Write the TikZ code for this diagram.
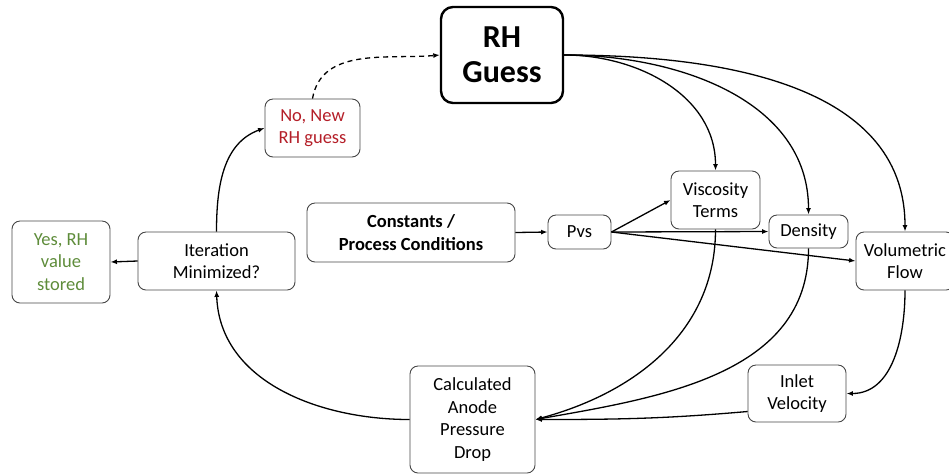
\documentclass[tikz,border=0pt]{standalone}
\usepackage{fontspec}
\setmainfont{Carlito}
\usetikzlibrary{arrows.meta}
\definecolor{redtxt}{RGB}{180,30,40}
\definecolor{greentxt}{RGB}{94,140,58}
\definecolor{boxline}{RGB}{70,70,70}
\begin{document}
\begin{tikzpicture}[x=1pt,y=1pt,
  box/.style={draw=boxline,line width=0.9pt,rounded corners=8pt,align=center,inner sep=0pt,
    font=\fontsize{18.5}{22.5}\selectfont},
  conn/.style={line width=1.3pt,-{Latex[length=6.5pt,width=5pt]}}]
\useasboundingbox (0,0) rectangle (949,-475);
\node[draw=black,line width=2.4pt,rounded corners=12pt,align=center,inner sep=0pt,
  minimum width=122pt,minimum height=96pt,font=\bfseries\fontsize{32}{35}\selectfont] (rh) at (502,-55) {RH\\Guess};
\node[box,minimum width=95pt,minimum height=58pt,text=redtxt] (nonew) at (312.5,-128) {No, New\\RH guess};
\node[box,minimum width=98pt,minimum height=82pt,text=greentxt] (yes) at (61,-262) {Yes, RH\\value\\stored};
\node[box,minimum width=157pt,minimum height=58pt] (iter) at (216.5,-261) {Iteration\\Minimized?};
\node[box,minimum width=208pt,minimum height=59pt,font=\bfseries\fontsize{18.5}{22.5}\selectfont] (const) at (411,-232.5) {Constants /\\Process Conditions};
\node[box,minimum width=63pt,minimum height=34pt] (pvs) at (579.5,-232) {Pvs};
\node[box,minimum width=89pt,minimum height=58pt] (visc) at (715.5,-200) {Viscosity\\Terms};
\node[box,minimum width=79pt,minimum height=33pt] (dens) at (808.5,-231.5) {Density};
\node[box,minimum width=98pt,minimum height=58pt] (vol) at (905,-261) {Volumetric\\Flow};
\node[box,minimum width=98pt,minimum height=57pt] (inlet) at (797,-393.5) {Inlet\\Velocity};
\node[box,minimum width=125pt,minimum height=107pt] (calc) at (472.5,-419.5) {Calculated\\Anode\\Pressure\\Drop};

\draw[conn,dashed,dash pattern=on 5pt off 4pt] (nonew.north) to[out=80,in=185] (rh.west);
\draw[conn] (iter.north) to[out=90,in=200] (nonew.west);
\draw[conn] (iter.west) -- (yes.east);
\draw[conn] (calc.west) to[out=180,in=-88] (iter.south);
\draw[conn] (const.east) -- (pvs.west);
\draw[conn] (pvs.east) -- (visc.west);
\draw[conn] (pvs.east) -- (dens.west);
\draw[conn] (pvs.east) -- (vol.west);
\draw[conn] (rh.east) to[out=0,in=90] (visc.north);
\draw[conn] (rh.east) to[out=0,in=90] (dens.north);
\draw[conn] (rh.east) to[out=0,in=90] (vol.north);
\draw[conn] (visc.south) to[out=-90,in=15] (calc.east);
\draw[conn] (dens.south) to[out=-90,in=10] (calc.east);
\draw[conn] (vol.south) to[out=-90,in=0] (inlet.east);
\draw[conn] (inlet.200) to[out=185,in=0] (calc.east);
\end{tikzpicture}
\end{document}
